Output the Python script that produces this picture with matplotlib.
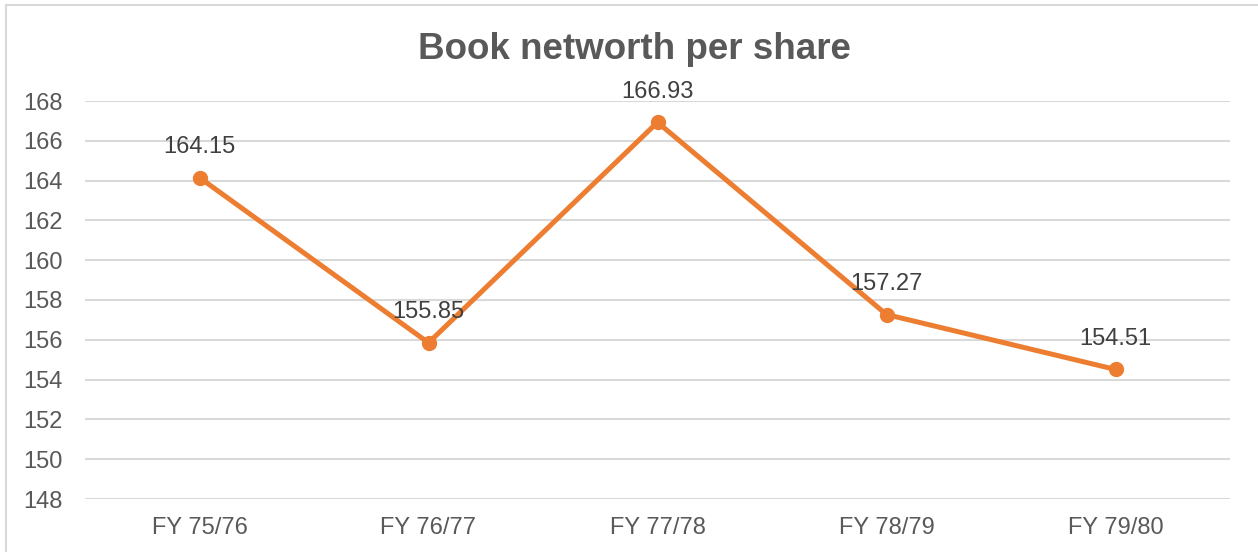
import matplotlib
matplotlib.use("Agg")
import matplotlib.pyplot as plt
from matplotlib.patches import Rectangle

# chart data
categories = ["FY 75/76", "FY 76/77", "FY 77/78", "FY 78/79", "FY 79/80"]
values = [164.15, 155.85, 166.93, 157.27, 154.51]
y_ticks = [148, 150, 152, 154, 156, 158, 160, 162, 164, 166, 168]

plt.rcParams['font.family'] = ['Liberation Sans', 'DejaVu Sans']

W, H = 1258, 552
fig = plt.figure(figsize=(W / 100, H / 100), dpi=100)
fig.patch.set_facecolor("white")

ax = fig.add_axes([85 / W, 1 - 499 / H, (1230 - 85) / W, (499 - 101) / H])

x = list(range(len(categories)))
ax.plot(x, values, color="#ED7D31", linewidth=3.6, marker="o",
        markersize=10, solid_capstyle="round", zorder=3)

for xi, v in zip(x, values):
    ax.annotate(f"{v:.2f}", (xi, v), xytext=(0, 22), textcoords="offset points",
                ha="center", va="center", fontsize=17, color="#404040", zorder=4)

ax.set_xlim(-0.5, len(categories) - 0.5)
ax.set_ylim(148, 168)
ax.set_yticks(y_ticks)
ax.set_xticks(x)
ax.set_xticklabels(categories)
ax.grid(axis="y", color="#D9D9D9", linewidth=1.5)
ax.set_axisbelow(True)
for s in ax.spines.values():
    s.set_visible(False)
ax.tick_params(axis="both", length=0, labelsize=17, labelcolor="#595959")
ax.tick_params(axis="y", pad=16)
ax.tick_params(axis="x", pad=13)

fig.text(634 / W, 1 - 49 / H, "Book networth per share", ha="center", va="center",
         fontsize=26.5, fontweight="bold", color="#595959")

# chart border (cropped on right and bottom in the original)
fig.patches.append(Rectangle((6 / W, -0.1), 1.2, 1 - 5 / H + 0.1,
                             transform=fig.transFigure, fill=False,
                             edgecolor="#D9D9D9", linewidth=1.5))

fig.savefig("out.png", dpi=100)
